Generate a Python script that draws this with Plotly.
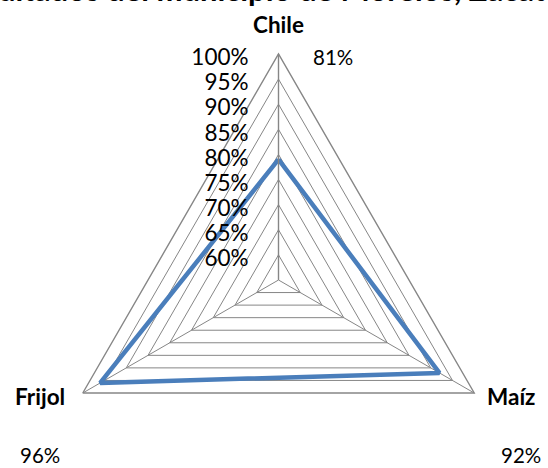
import plotly.graph_objects as go

# ---- data ----
categories = ["Chile", "Maíz", "Frijol"]
values = [0.79, 0.92, 0.96]
value_labels = ["81%", "92%", "96%"]
tick_values = [0.60, 0.65, 0.70, 0.75, 0.80, 0.85, 0.90, 0.95, 1.00]
title_text = "Resultados del municipio de Morelos, Zacatecas"

W, H = 548, 520
CX, CY, R = 278.5, 280.0, 226.0

def px_x(x):
    return x / W

def px_y(y):
    return 1 - y / H

fig = go.Figure()
fig.add_trace(go.Scatterpolar(
    r=values + [values[0]],
    theta=categories + [categories[0]],
    mode="lines",
    line=dict(color="#4A7EBB", width=4.5),
    showlegend=False,
    hoverinfo="skip",
))

grid_col = "#868686"
fig.update_layout(
    width=W, height=H, autosize=False,
    margin=dict(l=0, r=0, t=0, b=0),
    paper_bgcolor="white",
    font=dict(family="Lato", color="black"),
    polar=dict(
        domain=dict(x=[px_x(CX - R), px_x(CX + R)], y=[px_y(CY + R), px_y(CY - R)]),
        bgcolor="white",
        gridshape="linear",
        radialaxis=dict(
            range=[0.55, 1.0],
            tickvals=tick_values,
            tickformat=".0%",
            angle=90,
            side="counterclockwise",
            showline=True, linecolor=grid_col, linewidth=1.4,
            gridcolor=grid_col, gridwidth=1.4,
            ticks="outside", ticklen=9, tickcolor="rgba(0,0,0,0)",
            tickfont=dict(size=22.5, family="Lato", color="black"),
        ),
        angularaxis=dict(
            direction="clockwise",
            rotation=90,
            showline=True, linecolor=grid_col, linewidth=1.4,
            gridcolor=grid_col, gridwidth=1.4,
            ticks="",
            showticklabels=False,
        ),
    ),
)

# category labels (bold)
cat_pos = {"Chile": (278, 24, "center"), "Maíz": (485, 396, "left"), "Frijol": (67, 396, "right")}
for c in categories:
    lx, ly, anc = cat_pos[c]
    fig.add_annotation(text="<b>%s</b>" % c, xref="paper", yref="paper",
                       x=px_x(lx), y=px_y(ly), xanchor=anc, yanchor="middle",
                       showarrow=False, font=dict(size=22.5, family="Lato", color="black"))

# title (cut at top in the reference)
fig.add_annotation(text="<b>%s</b>" % title_text, xref="paper", yref="paper",
                   x=px_x(277), y=px_y(-11), xanchor="center", yanchor="middle",
                   showarrow=False, font=dict(size=31, family="Lato", color="black"))

# data labels
label_pos = [(333, 57), (521, 455), (40, 455)]
for txt, (lx, ly) in zip(value_labels, label_pos):
    fig.add_annotation(text=txt, xref="paper", yref="paper",
                       x=px_x(lx), y=px_y(ly), xanchor="center", yanchor="middle",
                       showarrow=False, font=dict(size=20.5, family="Lato", color="black"))

fig.write_html("out.html",
               post_script="document.documentElement.style.overflow='hidden';document.body.style.overflow='hidden';")
